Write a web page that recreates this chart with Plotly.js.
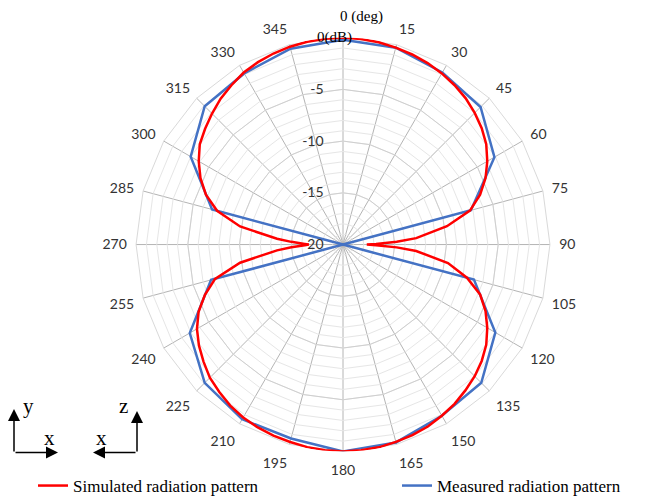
<!DOCTYPE html>
<html>
<head>
<meta charset="utf-8">
<script src="https://cdn.plot.ly/plotly-3.0.1.min.js"></script>
<style>html,body{margin:0;padding:0;background:#fff;}#chart{width:647px;height:504px;}</style>
</head>
<body>
<div id="chart"></div>
<script>
// Angular categories (deg)
const angleLabels = ['0','15','30','45','60','75','90','105','120','135','150','165','180','195','210','225','240','255','270','285','300','315','330','345'];
// Angular tick texts (the 0 label is written with its unit, see annotations)
const angleTickText = ['','15','30','45','60','75','90','105','120','135','150','165','180','195','210','225','240','255','270','285','300','315','330','345'];
// Measured radiation pattern (dB) at each 15 deg
const measuredDb = [-0.2,-0.3,-0.8,-1.2,-3.1,-7.2,-20,-6.9,-3.0,-1.1,-0.9,-0.2,0,-0.6,-0.5,-1.1,-2.9,-6.8,-20,-6.9,-3.0,-1.1,-0.9,-0.4];
// Simulated radiation pattern
const simTheta = [0,5,10,15,20,25,30,35,40,45,50,55,60,65,70,75,80,85,87,89,90,91,93,95,100,105,110,115,120,125,130,135,140,145,150,155,160,165,170,175,180,185,190,195,200,205,210,215,220,225,230,235,240,245,250,255,260,265,267,269,270,271,273,275,280,285,290,295,300,305,310,315,320,325,330,335,340,345,350,355,360];
const simDb = [0,-0.05,-0.15,-0.3,-0.45,-0.65,-0.9,-1.2,-1.55,-2.0,-2.5,-3.1,-3.9,-4.8,-5.9,-7.3,-9.8,-12.9,-14.8,-16.8,-17.7,-16.8,-14.8,-12.9,-9.7,-7.6,-5.9,-4.8,-3.9,-3.1,-2.5,-2.0,-1.6,-1.2,-0.9,-0.6,-0.4,-0.25,-0.1,-0.05,0,-0.05,-0.12,-0.25,-0.35,-0.5,-0.7,-1.0,-1.4,-1.8,-2.4,-3.0,-3.7,-4.6,-5.8,-7.2,-9.9,-13.6,-15.0,-16.3,-16.7,-16.3,-15.0,-13.6,-9.9,-7.4,-5.9,-4.8,-3.9,-3.1,-2.6,-2.1,-1.6,-1.2,-0.8,-0.55,-0.35,-0.2,-0.1,-0.03,0];
// Radial grid / tick values
const minorRings = [-20,-19,-18,-17,-16,-15,-14,-13,-12,-11,-10,-9,-8,-7,-6,-5,-4,-3,-2,-1,0];
const majorRings = [-20,-15,-10,-5,0];
const majorLabels = ['-20','-15','-10','-5',''];

const closedCats = angleLabels.concat([angleLabels[0]]);
const closedMeas = measuredDb.concat([measuredDb[0]]);

const labelFont = {family: 'Lato, "Liberation Sans", sans-serif', size: 14, color: '#333333'};
const serif = 'Liberation Serif, "Times New Roman", serif';

const data = [
  {type:'scatterpolar', subplot:'polar3', r: simDb, theta: simTheta, mode:'lines',
   name:'Simulated radiation pattern', line:{color:'#ff0000', width:2.5}, legend:'legend', hoverinfo:'skip'},
  {type:'scatterpolar', subplot:'polar2', r: closedMeas, theta: closedCats, mode:'lines',
   name:'Measured radiation pattern', line:{color:'#4472c4', width:2.5}, legend:'legend2', hoverinfo:'skip'},
  {type:'scatterpolar', subplot:'polar', r: closedMeas, theta: closedCats, mode:'lines',
   line:{color:'rgba(0,0,0,0)', width:0}, showlegend:false, hoverinfo:'skip'}
];

const dom = {x:[0.2071,0.8532], y:[0.0952,0.9246]};
const catAx = {type:'category', categoryorder:'array', categoryarray: angleLabels, rotation:90, direction:'clockwise'};

const layout = {
  width:647, height:504,
  margin:{l:0,r:0,t:0,b:0},
  paper_bgcolor:'#ffffff',
  showlegend:true,
  polar:{
    domain: dom, bgcolor:'#ffffff', gridshape:'linear', hole:0,
    angularaxis: Object.assign({}, catAx, {showgrid:true, gridcolor:'#b4b4b4', gridwidth:1,
      showline:true, linecolor:'#d9d9d9', linewidth:1, ticks:'outside', ticklen:6, tickcolor:'rgba(0,0,0,0)',
      tickmode:'array', tickvals: angleLabels, ticktext: angleTickText,
      tickfont: labelFont, showticklabels:true}),
    radialaxis:{range:[-20,0], tickvals: minorRings, showticklabels:false, ticks:'',
      showgrid:true, gridcolor:'#e6e6e6', gridwidth:1, showline:false}
  },
  polar2:{
    domain: dom, bgcolor:'rgba(0,0,0,0)', gridshape:'linear', hole:0,
    angularaxis: Object.assign({}, catAx, {showgrid:false, showline:false, ticks:'', showticklabels:false}),
    radialaxis:{range:[-20,0], tickvals: majorRings, ticktext: majorLabels,
      ticks:'outside', ticklen:14, tickcolor:'rgba(0,0,0,0)',
      angle:90, side:'counterclockwise', tickangle:90, tickfont: labelFont,
      showgrid:true, gridcolor:'#cfcfcf', gridwidth:1, showline:false}
  },
  polar3:{
    domain: dom, bgcolor:'rgba(0,0,0,0)', hole:0,
    angularaxis:{type:'linear', rotation:90, direction:'clockwise', showgrid:false, showline:false, ticks:'', showticklabels:false},
    radialaxis:{range:[-20,0], showgrid:false, showline:false, showticklabels:false, ticks:''}
  },
  legend:{orientation:'h', x:33/647, xanchor:'left', y:1-491/504, yanchor:'middle',
    font:{family: serif, size:17, color:'#000'}, bgcolor:'rgba(0,0,0,0)'},
  legend2:{orientation:'h', x:397/647, xanchor:'left', y:1-491/504, yanchor:'middle',
    font:{family: serif, size:17, color:'#000'}, bgcolor:'rgba(0,0,0,0)'},
  annotations:[
    {xref:'paper', yref:'paper', x:338/647, y:1-17/504, xanchor:'left', yanchor:'middle', showarrow:false,
     text:'0 (deg)', font:{family: serif, size:15, color:'#000'}},
    {xref:'paper', yref:'paper', x:315/647, y:1-38/504, xanchor:'left', yanchor:'middle', showarrow:false,
     text:'0(dB)', font:{family: serif, size:15, color:'#000'}},
    // coordinate icons
    {xref:'paper', yref:'paper', x:14/647, y:1-413/504, ax:0, ay:44, axref:'pixel', ayref:'pixel', text:'', showarrow:true,
     arrowhead:2, arrowsize:1.6, arrowwidth:1.5, arrowcolor:'#000', standoff:0, startstandoff:0},
    {xref:'paper', yref:'paper', x:58/647, y:1-457/504, ax:-44, ay:0, axref:'pixel', ayref:'pixel', text:'', showarrow:true,
     arrowhead:2, arrowsize:1.6, arrowwidth:1.5, arrowcolor:'#000', standoff:0, startstandoff:0},
    {xref:'paper', yref:'paper', x:137/647, y:1-415/504, ax:0, ay:42, axref:'pixel', ayref:'pixel', text:'', showarrow:true,
     arrowhead:2, arrowsize:1.6, arrowwidth:1.5, arrowcolor:'#000', standoff:0, startstandoff:0},
    {xref:'paper', yref:'paper', x:93/647, y:1-457/504, ax:44, ay:0, axref:'pixel', ayref:'pixel', text:'', showarrow:true,
     arrowhead:2, arrowsize:1.6, arrowwidth:1.5, arrowcolor:'#000', standoff:0, startstandoff:0},
    {xref:'paper', yref:'paper', x:28/647, y:1-410/504, xanchor:'center', yanchor:'middle', showarrow:false,
     text:'y', font:{family: serif, size:21, color:'#000'}},
    {xref:'paper', yref:'paper', x:49/647, y:1-442/504, xanchor:'center', yanchor:'middle', showarrow:false,
     text:'x', font:{family: serif, size:21, color:'#000'}},
    {xref:'paper', yref:'paper', x:123/647, y:1-410/504, xanchor:'center', yanchor:'middle', showarrow:false,
     text:'z', font:{family: serif, size:21, color:'#000'}},
    {xref:'paper', yref:'paper', x:102/647, y:1-442/504, xanchor:'center', yanchor:'middle', showarrow:false,
     text:'x', font:{family: serif, size:21, color:'#000'}}
  ]
};

Plotly.newPlot('chart', data, layout, {staticPlot:true, displayModeBar:false});
</script>
</body>
</html>
